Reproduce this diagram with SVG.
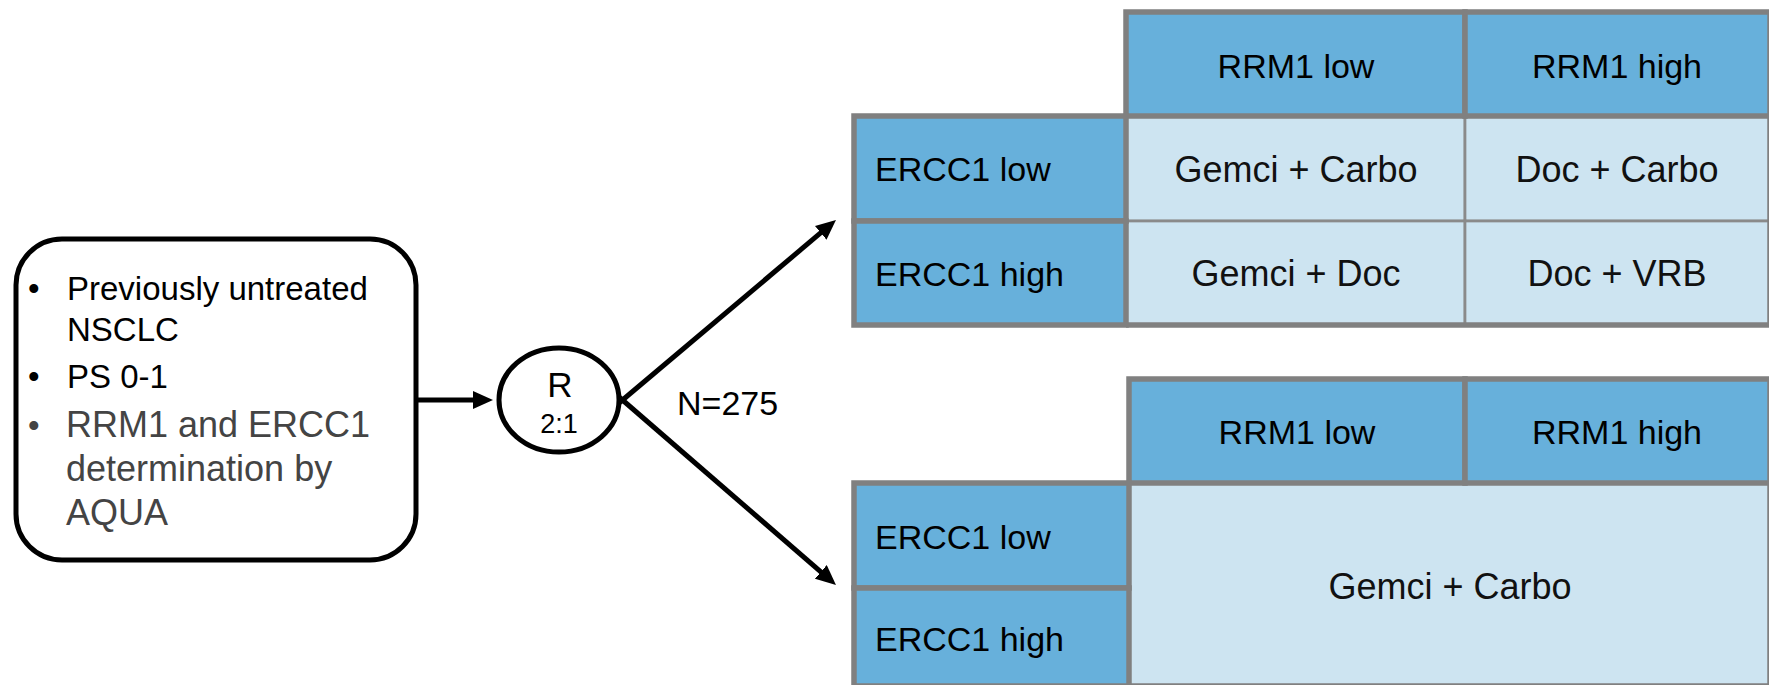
<svg xmlns="http://www.w3.org/2000/svg" width="1769" height="685" viewBox="0 0 1769 685">
  <style>
    text { font-family: "Liberation Sans", Arial, Helvetica, sans-serif; fill: #000; }
    .lbl { font-size: 33px; }
    .gray { fill: #444; font-size: 36px; }
    .hdrtxt { font-size: 34px; }
    .celltxt { font-size: 36px; fill: #111; }
    .hdr { fill: #67b0db; stroke: #808080; stroke-width: 5.5; }
    .cell { fill: #cde4f1; stroke: #8a8a8a; stroke-width: 2.7; }
    .thick { stroke: #808080; stroke-width: 5.5; fill: none; }
    .conn { stroke: #000; stroke-width: 5; fill: none; }
  </style>
  <defs>
    <marker id="arrow" viewBox="0 0 20 18" refX="8" refY="9" markerWidth="20" markerHeight="18" markerUnits="userSpaceOnUse" orient="auto">
      <path d="M0,0 L20,9 L0,18 z" fill="#000"/>
    </marker>
  </defs>

  <g id="connectors">
    <line class="conn" x1="418" y1="400" x2="481" y2="400" marker-end="url(#arrow)"/>
    <line class="conn" x1="619" y1="403" x2="826.8" y2="227.7" marker-end="url(#arrow)"/>
    <line class="conn" x1="619" y1="397" x2="826.9" y2="577.1" marker-end="url(#arrow)"/>
  </g>

  <g id="eligibility">
    <rect x="16" y="239" width="400" height="321" rx="46" ry="46" fill="#fff" stroke="#000" stroke-width="5"/>
    <text class="lbl" x="28" y="300">•</text>
    <text class="lbl" x="67" y="300">Previously untreated</text>
    <text class="lbl" x="67" y="341">NSCLC</text>
    <text class="lbl" x="28" y="388">•</text>
    <text class="lbl" x="67" y="388">PS 0-1</text>
    <text class="lbl" x="28" y="437" fill="#444" style="fill:#444">•</text>
    <text class="gray" x="66" y="437">RRM1 and ERCC1</text>
    <text class="gray" x="66" y="481">determination by</text>
    <text class="gray" x="66" y="525">AQUA</text>
  </g>

  <g id="randomization">
    <ellipse cx="559" cy="400" rx="60" ry="52" fill="#fff" stroke="#000" stroke-width="5"/>
    <text x="560" y="397" font-size="35" text-anchor="middle">R</text>
    <text x="559" y="433" font-size="27" text-anchor="middle">2:1</text>
  </g>

  <g id="n-label">
    <text x="677" y="415" font-size="34" fill="#111">N=275</text>
  </g>

  <g id="table-top">
    <rect class="cell" x="1126" y="116" width="339" height="105"/>
    <rect class="cell" x="1465" y="116" width="305" height="105"/>
    <rect class="cell" x="1126" y="221" width="339" height="104"/>
    <rect class="cell" x="1465" y="221" width="305" height="104"/>
    <line class="thick" x1="1126" y1="325" x2="1772" y2="325"/>
    <line class="thick" x1="1770" y1="116" x2="1770" y2="325"/>
    <rect class="hdr" x="1126" y="12" width="339" height="104"/>
    <rect class="hdr" x="1465" y="12" width="305" height="104"/>
    <rect class="hdr" x="854" y="116" width="272" height="105"/>
    <rect class="hdr" x="854" y="221" width="272" height="104"/>
    <text class="hdrtxt" x="1296" y="78" text-anchor="middle">RRM1 low</text>
    <text class="hdrtxt" x="1617" y="78" text-anchor="middle">RRM1 high</text>
    <text class="hdrtxt" x="875" y="181">ERCC1 low</text>
    <text class="hdrtxt" x="875" y="286">ERCC1 high</text>
    <text class="celltxt" x="1296" y="182" text-anchor="middle">Gemci + Carbo</text>
    <text class="celltxt" x="1617" y="182" text-anchor="middle">Doc + Carbo</text>
    <text class="celltxt" x="1296" y="286" text-anchor="middle">Gemci + Doc</text>
    <text class="celltxt" x="1617" y="286" text-anchor="middle">Doc + VRB</text>
  </g>

  <g id="table-bottom">
    <rect class="cell" x="1129" y="483" width="641" height="210"/>
    <line class="thick" x1="1770" y1="483" x2="1770" y2="693"/>
    <rect class="hdr" x="1129" y="379" width="336" height="104"/>
    <rect class="hdr" x="1465" y="379" width="305" height="104"/>
    <rect class="hdr" x="854" y="483" width="275" height="105"/>
    <rect class="hdr" x="854" y="588" width="275" height="105"/>
    <line class="thick" x1="854" y1="686" x2="1772" y2="686"/>
    <text class="hdrtxt" x="1297" y="444" text-anchor="middle">RRM1 low</text>
    <text class="hdrtxt" x="1617" y="444" text-anchor="middle">RRM1 high</text>
    <text class="hdrtxt" x="875" y="549">ERCC1 low</text>
    <text class="hdrtxt" x="875" y="651">ERCC1 high</text>
    <text class="celltxt" x="1450" y="599" text-anchor="middle">Gemci + Carbo</text>
  </g>
</svg>
